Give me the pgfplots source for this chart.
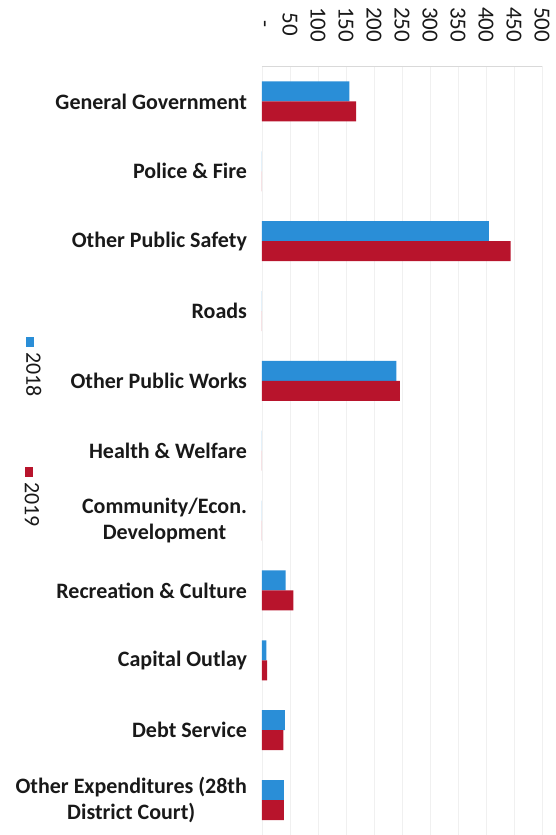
\documentclass[border=0pt]{standalone}
\usepackage{pgfplots}
\pgfplotsset{compat=1.18}
\usepackage{pgfplotstable}
\usepackage{fontspec}
\setmainfont{Carlito}
\definecolor{blue18}{HTML}{2A8ED7}
\definecolor{red19}{HTML}{B8142C}
\pgfplotstableread{
y v18 v19
10 156 168
9 0 0
8 405 444
7 0 0
6 240 246
5 0 0
4 0 0
3 42 56
2 8 9
1 41 38
0 39 39
}\data
\begin{document}
\begin{tikzpicture}
\begin{axis}[
  at={(0,0)}, anchor=south west,
  width=140pt, height=384.25pt, scale only axis,
  xbar, bar width=10pt,
  xmin=0, xmax=500, ymin=-0.5, ymax=10.5,
  axis x line*=top, axis y line*=left,
  x axis line style={draw=black!15},
  y axis line style={draw=none},
  major tick length=0pt,
  xmajorgrids, grid style={draw=black!6},
  xtick={0,50,...,500},
  xticklabels={-,50,100,150,200,250,300,350,400,450,500},
  xticklabel style={yshift=21pt, rotate=-90, anchor=center, font=\fontsize{11.5}{12}\selectfont, text=black!90},
  /pgf/number format/assume math mode=true,
  ytick={0,...,10},
  yticklabels={{Other Expenditures (28th\\District Court)},Debt Service,Capital Outlay,Recreation \& Culture,{Community/Econ.\\Development},Health \& Welfare,Other Public Works,Roads,Other Public Safety,Police \& Fire,General Government},
  yticklabel style={align=center, font=\bfseries\fontsize{11}{13}\selectfont, text=black!90, xshift=-4pt},
  clip=false,
]
\addplot[fill=blue18, draw=none, bar shift=5pt] table[x=v18, y=y] {\data};
\addplot[fill=red19, draw=none, bar shift=-5pt] table[x=v19, y=y] {\data};
\node[rotate=-90, anchor=west, inner sep=0pt, font=\fontsize{11}{12}\selectfont, text=black!90]
  at (axis description cs:-0.815,0.648) {\textcolor{blue18}{\rule{5pt}{4pt}}\hspace{2.5pt}2018};
\node[rotate=-90, anchor=west, inner sep=0pt, font=\fontsize{11}{12}\selectfont, text=black!90]
  at (axis description cs:-0.822,0.479) {\textcolor{red19}{\rule{5pt}{4pt}}\hspace{2.5pt}2019};
\end{axis}
\pgfresetboundingbox
\path[use as bounding box] (-131pt,0pt) rectangle (147pt,417.5pt);
\end{tikzpicture}
\end{document}
